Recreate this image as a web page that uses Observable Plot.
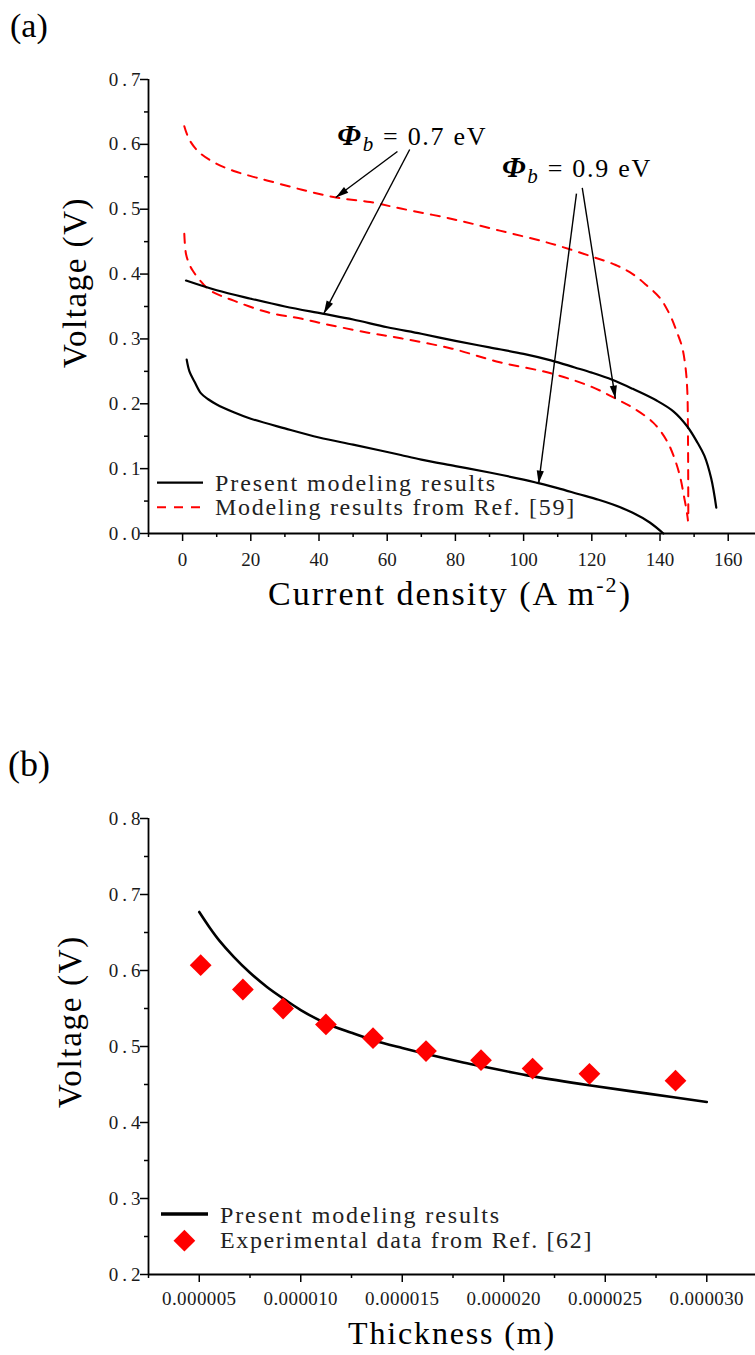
<!DOCTYPE html>
<html>
<head>
<meta charset="utf-8">
<script src="https://cdn.jsdelivr.net/npm/d3@7"></script>
<script src="https://cdn.jsdelivr.net/npm/@observablehq/plot@0.6"></script>
<style>
  html, body { margin: 0; padding: 0; background: #fff; }
  #figure svg { display: block; }
</style>
</head>
<body>
<div id="figure"></div>
<script>
// ---------- Panel (a): voltage vs current density ----------
// [current density (A m^-2), voltage (V)]
const present07 = [[1,0.390],[10,0.375],[20,0.362],[30,0.350],[41,0.339],[50,0.330],[60,0.318],[70,0.308],[80,0.297],[90,0.287],[100,0.277],[108,0.267],[115,0.256],[120,0.248],[126,0.237],[132,0.223],[139,0.205],[144,0.188],[148,0.165],[151,0.140],[153,0.120],[155,0.085],[156.5,0.040]];
const present09 = [[1.2,0.268],[2,0.250],[3.5,0.234],[5.4,0.216],[7.5,0.207],[10,0.199],[15,0.187],[20,0.177],[30,0.162],[40,0.148],[50,0.137],[58,0.128],[64,0.121],[70,0.114],[80,0.104],[90,0.094],[100,0.083],[104,0.078],[110,0.070],[116,0.061],[122,0.052],[126,0.045],[132,0.032],[137,0.017],[141,0]];
const ref07 = [[0.5,0.628],[2,0.607],[5,0.587],[10,0.570],[15,0.559],[20,0.551],[25,0.544],[35,0.530],[45,0.518],[55,0.511],[64,0.501],[79,0.485],[93,0.467],[108,0.447],[120,0.427],[127,0.414],[132,0.400],[136,0.383],[140,0.363],[143,0.336],[145,0.310],[146.5,0.287],[147.5,0.255],[148,0.220],[148.2,0.150],[148.3,0.020]];
const ref09 = [[0.5,0.462],[1,0.431],[2,0.415],[3,0.405],[5,0.391],[8,0.375],[15,0.359],[25,0.341],[35,0.331],[40,0.325],[54,0.310],[64,0.301],[79,0.285],[93,0.264],[108,0.247],[120,0.226],[127,0.208],[132,0.194],[138,0.171],[142,0.143],[144.5,0.112],[146,0.085],[147,0.058],[147.8,0.035],[148.2,0.020]];

const xTicksA = [0, 20, 40, 60, 80, 100, 120, 140, 160];
const xMinorA = [-10, 10, 30, 50, 70, 90, 110, 130, 150];
const yTicksA = [0, 0.1, 0.2, 0.3, 0.4, 0.5, 0.6, 0.7];
const yMinorA = [0.05, 0.15, 0.25, 0.35, 0.45, 0.55, 0.65];

// Barrier-height callouts: label anchor and arrows (tail -> head)
const barrierLabels = [
  {value: "0.7", x: 45.5, y: 0.598},
  {value: "0.9", x: 93.8, y: 0.549}
];
const barrierArrows = [
  {x1: 63.0, y1: 0.589, x2: 44.9, y2: 0.518},
  {x1: 66.6, y1: 0.592, x2: 41.4, y2: 0.339},
  {x1: 115.5, y1: 0.524, x2: 104.4, y2: 0.077},
  {x1: 117.2, y1: 0.533, x2: 126.9, y2: 0.208}
];

// ---------- Panel (b): voltage vs thickness ----------
// [thickness (m), voltage (V)]
const thicknessModel = [[5.0e-6,0.677],[5.5e-6,0.657],[6.0e-6,0.639],[6.7e-6,0.618],[7.5e-6,0.597],[8.35e-6,0.578],[9.2e-6,0.562],[10.0e-6,0.548],[11.2e-6,0.531],[12.5e-6,0.518],[13.6e-6,0.508],[15.0e-6,0.498],[16.2e-6,0.490],[18.0e-6,0.479],[18.9e-6,0.474],[21.4e-6,0.461],[24.2e-6,0.449],[27.1e-6,0.438],[30.0e-6,0.427]];
const thicknessExp = [[5.07e-6,0.607],[7.15e-6,0.575],[9.13e-6,0.550],[11.24e-6,0.529],[13.56e-6,0.511],[16.17e-6,0.494],[18.88e-6,0.482],[21.42e-6,0.471],[24.22e-6,0.464],[28.46e-6,0.455]];

const xTicksB = [5e-6, 10e-6, 15e-6, 20e-6, 25e-6, 30e-6];
const xMinorB = [2.5e-6, 7.5e-6, 12.5e-6, 17.5e-6, 22.5e-6, 27.5e-6];
const yTicksB = [0.2, 0.3, 0.4, 0.5, 0.6, 0.7, 0.8];
const yMinorB = [0.25, 0.35, 0.45, 0.55, 0.65, 0.75];

// ---------- shared styling ----------
const W = 755;
const serif = "'Liberation Serif', 'DejaVu Serif', serif";
const ink = "#1a1a1a";
const red = "#ff0000";
const dash = "9,8";

// tick labels: serif digits, spaced out
function styleTicks(svg, axis, size, spacing) {
  svg.querySelectorAll(`g[aria-label="${axis}-axis tick label"] text`).forEach(t => {
    t.setAttribute("font-size", size);
    t.setAttribute("font-family", serif);
    t.setAttribute("letter-spacing", spacing);
  });
}

// free text made of styled runs
function addText(svg, {x, y, rotate = 0, anchor = "start", fill = "#000", width, parts}) {
  const t = d3.select(svg).append("text")
    .attr("transform", `translate(${x},${y})` + (rotate ? ` rotate(${rotate})` : ""))
    .attr("text-anchor", anchor)
    .attr("fill", fill)
    .attr("font-family", serif)
    .style("white-space", "pre");
  for (const p of parts) {
    const s = t.append("tspan").text(p.text).attr("font-size", p.size);
    if (p.weight) s.attr("font-weight", p.weight);
    if (p.style) s.attr("font-style", p.style);
    if (p.dy) s.attr("dy", p.dy);
  }
  // spread characters evenly so the run spans the requested width
  if (width) {
    const node = t.node();
    const natural = node.getComputedTextLength();
    const n = node.textContent.length;
    t.selectAll("tspan").attr("letter-spacing", ((width - natural) / n).toFixed(2));
  }
  return t;
}

const fig = document.getElementById("figure");

// ================= Panel (a) =================
const A = {height: 650, left: 148, right: 0, top: 79, bottom: 117, xDomain: [-10, 168], yDomain: [0, 0.7]};
const sxA = d3.scaleLinear(A.xDomain, [A.left, W - A.right]);
const syA = d3.scaleLinear(A.yDomain, [A.height - A.bottom, A.top]);
const heading = a => Math.atan2(sxA(a.x2) - sxA(a.x1), -(syA(a.y2) - syA(a.y1))) * 180 / Math.PI;

const lineOpts = {x: d => d[0], y: d => d[1], curve: "catmull-rom"};

const plotA = Plot.plot({
  width: W, height: A.height,
  marginLeft: A.left, marginRight: A.right, marginTop: A.top, marginBottom: A.bottom,
  x: {domain: A.xDomain, label: null},
  y: {domain: A.yDomain, label: null},
  style: {fontFamily: serif, fontSize: "19px", color: ink, background: "white"},
  marks: [
    Plot.line(ref07, {...lineOpts, stroke: red, strokeWidth: 2, strokeDasharray: dash}),
    Plot.line(ref09, {...lineOpts, stroke: red, strokeWidth: 2, strokeDasharray: dash}),
    Plot.line(present07, {...lineOpts, stroke: "#000", strokeWidth: 2.2}),
    Plot.line(present09, {...lineOpts, stroke: "#000", strokeWidth: 2.2}),
    Plot.link(barrierArrows, {x1: "x1", y1: "y1", x2: "x2", y2: "y2", stroke: "#000", strokeWidth: 1.4}),
    Plot.vector(barrierArrows, {x: "x2", y: "y2", rotate: heading, length: 13, r: 3.6, shape: "spike", anchor: "end", fill: "#000", stroke: "none"}),
    Plot.ruleX([A.xDomain[0]], {stroke: "#000", strokeWidth: 1.8}),
    Plot.ruleY([A.yDomain[0]], {stroke: "#000", strokeWidth: 1.8}),
    Plot.axisY(yTicksA, {tickSize: 8, tickPadding: -4, tickFormat: d => d.toFixed(1), strokeWidth: 1.5, stroke: "#000"}),
    Plot.axisY(yMinorA, {tickSize: 4, tickFormat: () => "", strokeWidth: 1.5, stroke: "#000"}),
    Plot.axisX(xTicksA, {tickSize: 8, tickPadding: 11, tickFormat: d => String(d), strokeWidth: 1.5, stroke: "#000"}),
    Plot.axisX(xMinorA, {tickSize: 4, tickFormat: () => "", strokeWidth: 1.5, stroke: "#000"})
  ]
});
fig.appendChild(plotA);
styleTicks(plotA, "x", 19, 0);
styleTicks(plotA, "y", 19, 4);

// panel letter and axis titles
addText(plotA, {x: 10, y: 37, parts: [{text: "(a)", size: 34}]});
addText(plotA, {x: 86, y: 282.5, rotate: -90, anchor: "middle", width: 171,
  parts: [{text: "Voltage (V)", size: 33}]});
addText(plotA, {x: 450, y: 605, anchor: "middle", width: 364, parts: [
  {text: "Current density (A m", size: 34},
  {text: "-2", size: 22, dy: -13},
  {text: ")", size: 34, dy: 13}
]});

// barrier-height callouts
for (const l of barrierLabels) {
  addText(plotA, {x: sxA(l.x), y: syA(l.y), width: 150, parts: [
    {text: "Φ", size: 30, weight: "bold", style: "italic"},
    {text: "b", size: 21, style: "italic", dy: 6},
    {text: ` = ${l.value} eV`, size: 26, dy: -6}
  ]});
}

// legend (a)
{
  const g = d3.select(plotA).append("g");
  g.append("line").attr("x1", 157).attr("x2", 203).attr("y1", 482.7).attr("y2", 482.7)
    .attr("stroke", "#000").attr("stroke-width", 2.2);
  g.append("line").attr("x1", 157).attr("x2", 203).attr("y1", 507.3).attr("y2", 507.3)
    .attr("stroke", red).attr("stroke-width", 2).attr("stroke-dasharray", dash);
  addText(plotA, {x: 215, y: 490.7, fill: "#222", width: 282, parts: [{text: "Present modeling results", size: 24}]});
  addText(plotA, {x: 215, y: 515.3, fill: "#222", width: 361, parts: [{text: "Modeling results from Ref. [59]", size: 24}]});
}

// ================= Panel (b) =================
const B = {height: 705, left: 148, right: 0, top: 168, bottom: 81, xDomain: [2.5e-6, 32.4e-6], yDomain: [0.2, 0.8]};
const dotR = 9.8;

const plotB = Plot.plot({
  width: W, height: B.height,
  marginLeft: B.left, marginRight: B.right, marginTop: B.top, marginBottom: B.bottom,
  x: {domain: B.xDomain, label: null},
  y: {domain: B.yDomain, label: null},
  style: {fontFamily: serif, fontSize: "19px", color: ink, background: "white"},
  marks: [
    Plot.line(thicknessModel, {...lineOpts, stroke: "#000", strokeWidth: 2.6}),
    Plot.dot(thicknessExp, {x: d => d[0], y: d => d[1], symbol: "diamond2", r: dotR, fill: red, stroke: "none"}),
    Plot.ruleX([B.xDomain[0]], {stroke: "#000", strokeWidth: 1.8}),
    Plot.ruleY([B.yDomain[0]], {stroke: "#000", strokeWidth: 1.8}),
    Plot.axisY(yTicksB, {tickSize: 8, tickPadding: -4, tickFormat: d => d.toFixed(1), strokeWidth: 1.5, stroke: "#000"}),
    Plot.axisY(yMinorB, {tickSize: 4, tickFormat: () => "", strokeWidth: 1.5, stroke: "#000"}),
    Plot.axisX(xTicksB, {tickSize: 8, tickPadding: 9, tickFormat: d => d.toFixed(6), strokeWidth: 1.5, stroke: "#000"}),
    Plot.axisX(xMinorB, {tickSize: 4, tickFormat: () => "", strokeWidth: 1.5, stroke: "#000"})
  ]
});
fig.appendChild(plotB);
styleTicks(plotB, "x", 19, 0.4);
styleTicks(plotB, "y", 19, 4);

addText(plotB, {x: 8, y: 126, parts: [{text: "(b)", size: 36}]});
addText(plotB, {x: 81, y: 371.5, rotate: -90, anchor: "middle", width: 173,
  parts: [{text: "Voltage (V)", size: 33}]});
addText(plotB, {x: 452, y: 694, anchor: "middle", width: 208,
  parts: [{text: "Thickness (m)", size: 32}]});

// legend (b)
{
  const g = d3.select(plotB).append("g");
  g.append("line").attr("x1", 161).attr("x2", 208).attr("y1", 564).attr("y2", 564)
    .attr("stroke", "#000").attr("stroke-width", 3.5);
  g.append("path")
    .attr("transform", "translate(184.4,590.7)")
    .attr("d", d3.symbol(d3.symbolDiamond2, Math.PI * dotR * dotR)())
    .attr("fill", red);
  addText(plotB, {x: 220, y: 572.7, fill: "#222", width: 281, parts: [{text: "Present modeling results", size: 24}]});
  addText(plotB, {x: 220, y: 598, fill: "#222", width: 373, parts: [{text: "Experimental data from Ref. [62]", size: 24}]});
}
</script>
</body>
</html>
